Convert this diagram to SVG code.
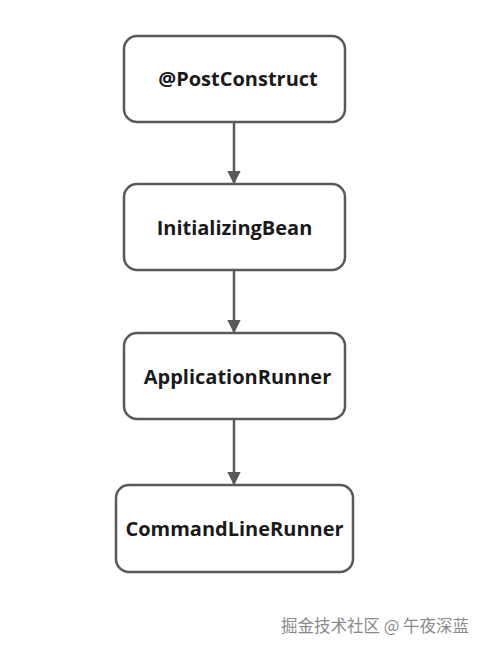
<svg xmlns="http://www.w3.org/2000/svg" width="485" height="651" viewBox="0 0 485 651">
<defs>
<marker id="ah" viewBox="0 0 10 10" refX="9" refY="5" markerWidth="5.5" markerHeight="5.5" markerUnits="strokeWidth" orient="auto">
<path d="M0,0 L10,5 L0,10 Z" fill="#595959"/>
</marker>
<style>
.box{fill:#fff;stroke:#595959;stroke-width:2.5}
.lbl{font-family:"Open Sans","Liberation Sans",sans-serif;font-weight:bold;font-size:20px;fill:#1a1a1a;text-anchor:middle}
.edge{stroke:#595959;stroke-width:2.5;fill:none}
.wm{font-family:"Noto Sans CJK SC",sans-serif;font-size:16.5px;fill:#8a8a8a}
</style>
</defs>
<rect width="485" height="651" fill="#fff"/>
<g id="connectors">
<line class="edge" x1="234" y1="122" x2="234" y2="183" marker-end="url(#ah)"/>
<line class="edge" x1="234" y1="270" x2="234" y2="332" marker-end="url(#ah)"/>
<line class="edge" x1="234" y1="419" x2="234" y2="484" marker-end="url(#ah)"/>
</g>
<g id="n1"><rect class="box" x="124" y="36" width="221" height="86" rx="13"/><text class="lbl" x="238" y="86">@PostConstruct</text></g>
<g id="n2"><rect class="box" x="124" y="184" width="221" height="86" rx="13"/><text class="lbl" x="234.5" y="235">InitializingBean</text></g>
<g id="n3"><rect class="box" x="124" y="333" width="221" height="86" rx="13"/><text class="lbl" x="237.5" y="384">ApplicationRunner</text></g>
<g id="n4"><rect class="box" x="116" y="485" width="237" height="87" rx="13"/><text class="lbl" x="234.5" y="536">CommandLineRunner</text></g>
<text class="wm" x="281" y="632">掘金技术社区 @ 午夜深蓝</text>
</svg>
